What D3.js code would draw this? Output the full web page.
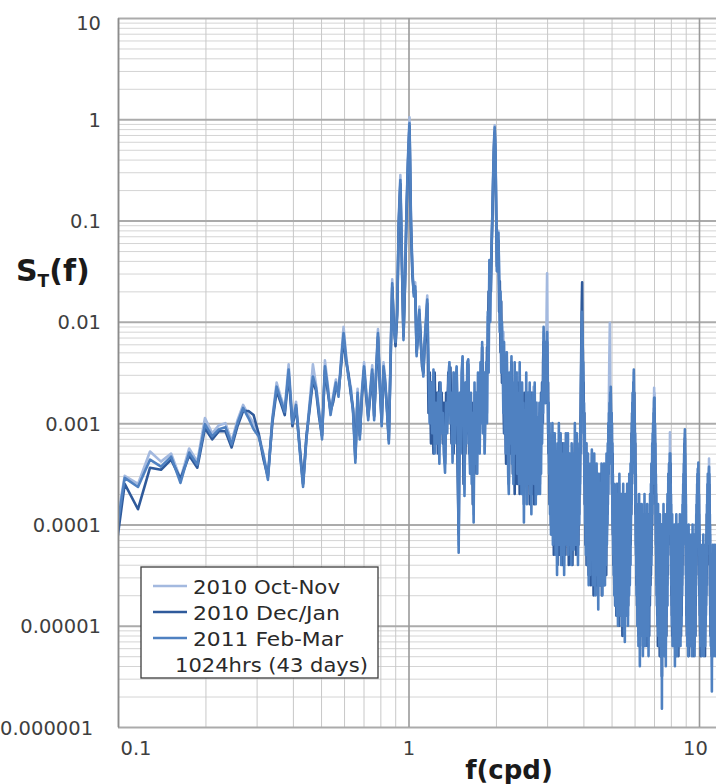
<!DOCTYPE html>
<html><head><meta charset="utf-8">
<script src="https://cdn.jsdelivr.net/npm/d3@7"></script>
<style>body{margin:0;background:#fff}svg{display:block}</style>
</head><body>
<svg id="c" width="716" height="784"></svg>
<script>
// ---- data -----------------------------------------------------------------
// spectral bins: frequency of bin k is k * binWidth (cpd); arrays start at firstBin
const binWidth = 24 / 2048;
const firstBin = 8;
const seriesNames = ["2010 Oct-Nov", "2010 Dec/Jan", "2011 Feb-Mar"];
const noteText = "1024hrs (43 days)";
const xTicks = [0.1, 1, 10];
const xTickLabels = ["0.1", "1", "10"];
const yTicks = [10, 1, 0.1, 0.01, 0.001, 0.0001, 0.00001, 0.000001];
const yTickLabels = ["10", "1", "0.1", "0.01", "0.001", "0.0001", "0.00001", "0.000001"];

// S_T(f) in dB (10*log10 S_T), one value per bin, k = 8 ... 990
const octNovDb = [
-44,-35.2,-36,-32.8,-33.8,-33,-35.5,-32.5,-33.8,-29.5,-31,-30.2,
-30,-31.8,-29.7,-28.2,-29.2,-30,-31,-33,-35.2,-29.5,-26,-27.4,-28.6,-24.2,-29.7,-27.9,-32.2,-36,-31.3,-27.9,
-24.2,-26.2,-28.7,-31.3,-23.8,-26.2,-28.9,-27.2,-25.7,-27.1,-23.6,-20.5,-23.2,-25.2,-26.4,-28.7,-33.5,-26.6,-31.3,-26.7,
-24,-26.7,-29.4,-26.7,-24.3,-29.4,-24.6,-20.7,-25.7,-30,-24,-25.7,-28.7,-31.7,-23.6,-15.8,-20.5,-21.6,-18.7,-9.6,
-5.5,-13.6,-21.5,-15.6,-8.7,-3.6,0.2,-9.6,-14.6,-17.2,-16.1,-23.1,-20.6,-18.5,-21.7,-23.6,-25.1,-21.6,-19.6,-17.4,
-25,-30,-26,-32,-25,-31,-28,-33,-27,-32,-27,-30,-29,-33,-34,-28,-30,-26,-24,-29,
-28,-33,-25,-31,-26,-24.5,-31,-42,-28,-33,-26,-23.5,-30,-36.5,-27,-32,-25,-23.8,-31,-34,
-28,-36,-29,-39,-27,-34,-28,-35,-26,-28,-33,-25,-30,-22.5,-31,-26,-33,-28.5,-25,-29,
-19.5,-25,-14,-20,-15.5,-12,-9,-5.2,-2.2,-0.6,-3,-9,-15,-13,-11,-15.5,-21,-17.5,-25,-20.5,
-26,-21,-30,-25,-33,-23,-29,-34,-26,-35,-28,-31,-25,-24,-30,-27,-35,-28,-33,-25,
-35,-27,-31,-25,-34,-29,-36,-26,-33,-29,-35,-27,-32,-37,-28,-30,-36,-27,-35,-29,
-33,-27,-36,-30,-34,-28,-37,-30,-33,-31,-26.4,-30,-35,-29,-37,-31,-34,-28,-36,-30,
-35,-29,-36,-30,-33,-28,-31,-26,-30,-21,-26,-23,-28,-22,-25,-19,-15.2,-22,-30,-28,
-34,-31,-38,-33,-40,-35,-37,-32,-41,-36,-34,-39,-32,-40,-42,-35,-38,-43,-34,-40,
-37,-32,-41,-35,-39,-33,-43,-37,-34,-41,-36,-42,-33,-44,-38,-35,-40,-33,-38,-41,
-35,-40,-33,-42,-37,-39,-34,-43,-36,-38,-43,-34,-40,-41,-35,-39,-42,-34,-40,-32,
-38,-41,-35,-40,-33,-42,-36,-43,-34,-39,-40,-33,-37,-31,-33,-27,-24,-21,-22,-23,
-27,-25,-31,-29,-36,-31,-40,-35,-42,-37,-33,-41,-38,-43,-34,-40,-45,-36,-42,-38,
-44,-35,-41,-42,-37,-33,-42,-38,-45,-36,-43,-40,-34,-42,-38,-46,-37,-41,-44,-35,
-40,-44,-38,-43,-47,-36,-42,-44,-39,-37,-45,-41,-38,-45,-35,-44,-40,-46,-37,-43,
-39,-44,-35,-43,-41,-45,-37,-42,-43,-38,-34,-42,-39,-40,-33,-38,-31,-35,-27,-24,
-22,-20.1,-25,-30,-28,-30,-33,-30,-36,-32,-39,-35,-42,-38,-44,-37,-46,-40,-44,-38,
-47,-40,-43,-45,-37,-48,-42,-39,-45,-49,-38,-43,-46,-41,-36,-46,-43,-48,-39,-44,
-42,-47,-38,-49,-43,-40,-46,-44,-37,-48,-43,-50,-39,-45,-50,-41,-47,-38,-44,-48,
-40,-46,-43,-37,-48,-44,-49,-39,-45,-42,-47,-36,-43,-46,-40,-44,-35,-41,-37,-33,
-37,-31,-34,-29,-32,-27,-30,-26,-28,-25,-27,-30,-29,-34,-31,-37,-34,-41,-37,-44,
-41,-47,-39,-44,-49,-42,-46,-40,-51,-43,-48,-38,-45,-49,-52,-43,-47,-40,-44,-50,
-42,-46,-39,-49,-43,-48,-41,-52,-45,-40,-47,-43,-50,-44,-38,-49,-46,-42,-51,-44,
-48,-40,-45,-50,-43,-47,-39,-49,-44,-42,-49,-46,-52,-41,-45,-48,-40,-43,-47,-38,
-45,-41,-43,-37,-44,-35,-41,-36,-39,-33,-38,-32,-36,-31,-35,-30,-33,-29,-26.5,-30,
-27,-32,-30,-35,-33,-39,-35,-42,-37,-45,-41,-47,-40,-45,-49,-42,-47,-39,-50,-44,
-41,-48,-45,-51,-43,-47,-40,-50,-44,-48,-42,-52,-46,-41,-49,-44,-55,-45,-49,-42,
-47,-43,-50,-44,-39,-49,-45,-52,-42,-48,-44,-50,-46,-40,-51,-44,-52,-43,-47,-41,
-49,-44,-46,-40,-48,-38,-44,-39,-42,-36,-41,-37,-40,-35,-39,-36,-37,-34,-30.9,-37,
-34,-40,-37,-43,-39,-46,-42,-48,-44,-50,-40,-47,-44,-51,-45,-49,-42,-50,-46,-43,
-48,-45,-51,-41,-47,-52,-44,-49,-45,-51,-42,-48,-46,-40,-50,-45,-47,-43,-52,-45,
-42,-49,-46,-44,-51,-41,-48,-45,-51,-43,-47,-45,-50,-40,-46,-49,-44,-51,-45,-42,
-48,-45,-50,-43,-46,-41,-47,-40,-45,-39,-43,-38,-42,-37,-41,-36,-40,-35,-38,-34,
-34,-33,-32,-31,-34,-34,-37,-36,-41,-38,-45,-41,-48,-44,-50,-42,-47,-45,-51,-46,
-43,-49,-45,-52,-44,-48,-41,-51,-46,-45,-50,-42,-47,-51,-45,-49,-44,-51,-47,-43,
-49,-45,-51,-42,-48,-46,-52,-44,-50,-45,-47,-41,-51,-45,-49,-43,-48,-46,-51,-45,
-42,-50,-47,-44,-52,-45,-49,-43,-51,-46,-48,-41,-47,-45,-45,-40,-44,-39,-42,-38,
-40,-37,-39,-36,-38,-35.5,-37,-36,-36,-35,-37,-36,-39,-38,-42,-40,-45,-42,-47,-45,
-49,-46,-48,-43,-51,-46,-49,-44,-50,-47,-45,-50,-52,-46,-48,-43,-51,-46,-49,-44,
-51,-46,-48,-42,-50,-46,-52,-45,-49,-43,-51,-47,-46,-50,-44,-48,-51,-46,-49,-43,
-49,-46,-48,-44,-47,-42,-46,-41,-44,-39,-43,-38,-41,-37,-40,-36,-39,-37,-37,-36,
-36,-36,-35,-35,-33.5,-37,-36,-40,-38,-43,-40,-46,-42,-48,-45,-50,-44,-51,-46,-49,
-45,-50,-47,-50,-52,-54,-45,-49,-44,-51,-46,-48,-43,-50,-45,-50,-45,-52,-47,-49,
-44,-50,-46,-48,-43,-51,-45,-50,-45,-49,-47,-52,-44,-48,-46,-50,-45,-49,-43,-50,
-46,-51,-47,-49,-44,-50,-46,-48,-45,-50,-46
];

const decJanDb = [
-47,-36,-38.5,-34.4,-34.6,-33.6,-35.5,-33.2,-34.4,-30.5,-31.6,-30.8,
-30.8,-32.4,-30.3,-28.8,-28.8,-29.2,-31,-33.5,-35.3,-30,-26.8,-28,-29.2,-25.2,-30.3,-28.5,-32.3,-36,-31.3,-28.6,
-25.8,-26.8,-29.4,-31.2,-24.8,-26.9,-28.8,-27.9,-26.4,-27,-24.4,-21.6,-23.9,-25.1,-27.1,-28.6,-33.4,-27.4,-31.2,-27.4,
-24.8,-27.4,-29.3,-27.4,-25.1,-29.3,-25.4,-21.5,-26.4,-29.9,-24.8,-26.4,-28.6,-31.6,-24.4,-16.6,-20.4,-22.4,-19.4,-10.5,
-6.4,-14.5,-21.4,-16.4,-9.5,-4.5,-0.7,-10.5,-15.4,-17.1,-16.9,-23,-21.4,-19.2,-21.6,-24.4,-25,-22.4,-20.4,-18.2,
-29,-25,-32,-26,-33,-25,-31,-27,-33,-26,-30,-27,-32,-28,-34,-27,-30,-25,-29,-24.5,
-32,-27,-33,-26,-31,-25,-35,-41,-30,-27,-32,-24,-36,-29,-33,-26,-31,-24.2,-33,-28,
-35,-28,-38,-31,-35,-27,-34,-28,-32,-26,-30,-25,-28,-22.5,-27,-25,-30,-26,-29,-22.5,
-24,-17,-20,-14.5,-17,-12.5,-9.5,-6,-3,-1.3,-3.5,-9.5,-14.5,-13.5,-12,-19,-16,-23,-18,-26,
-22,-27,-31,-24,-29,-34,-26,-31,-28,-36,-30,-27,-33,-24,-29,-35,-27,-32,-37,-26,
-33,-28,-36,-26,-34,-30,-37,-27,-32,-35,-29,-37,-31,-38,-27,-33,-36,-29,-34,-31,
-36,-28,-33,-38,-30,-35,-27,-37,-31,-34,-29,-38,-32,-28,-35,-33,-37,-30,-34,-36,
-30,-35,-29,-33,-27,-32,-26,-30,-24,-22,-25,-27,-24,-28,-23,-26,-22,-28,-26,-33,
-31,-38,-33,-36,-40,-32,-41,-35,-38,-31,-43,-37,-34,-41,-36,-33,-42,-38,-44,-35,
-40,-33,-38,-43,-34,-41,-36,-39,-32,-44,-37,-40,-35,-42,-33,-39,-43,-36,-41,-34,
-42,-35,-38,-33,-44,-37,-40,-34,-43,-38,-36,-41,-33,-44,-39,-35,-41,-37,-34,-32,
-40,-35,-43,-37,-33,-41,-38,-35,-42,-36,-39,-34,-36,-31,-29,-25,-21,-18,-16.1,-22,
-23,-29,-26,-33,-29,-38,-32,-42,-37,-35,-44,-39,-34,-43,-37,-40,-45,-36,-41,-38,
-43,-37,-46,-39,-35,-42,-38,-45,-34,-40,-47,-37,-43,-36,-44,-39,-41,-46,-35,-42,
-44,-38,-47,-36,-41,-45,-39,-43,-37,-46,-40,-35,-44,-41,-38,-47,-36,-42,-45,-39,
-43,-37,-46,-40,-35,-44,-38,-42,-36,-45,-39,-41,-34,-39,-33,-37,-31,-35,-30,-33,
-29,-31,-28,-32,-27,-31,-29,-34,-30,-37,-33,-41,-36,-44,-38,-42,-46,-39,-43,-48,
-40,-45,-37,-49,-42,-46,-39,-44,-48,-41,-36,-47,-43,-50,-39,-45,-41,-48,-44,-37,
-46,-42,-49,-38,-45,-51,-40,-47,-43,-39,-48,-44,-50,-41,-47,-45,-38,-49,-42,-46,
-44,-40,-49,-45,-38,-47,-42,-48,-40,-46,-43,-37,-45,-41,-44,-36,-42,-38,-35,-39,
-31,-36,-29,-34,-28,-32,-27,-30,-26,-28,-29,-27,-33,-30,-36,-32,-39,-35,-43,-38,
-46,-41,-48,-43,-39,-50,-44,-47,-40,-51,-45,-42,-49,-38,-52,-46,-41,-48,-43,-50,
-44,-39,-48,-45,-51,-41,-47,-43,-50,-46,-40,-49,-44,-52,-42,-47,-39,-50,-45,-48,
-42,-51,-46,-40,-48,-44,-52,-41,-47,-45,-50,-39,-46,-49,-43,-51,-45,-41,-48,-44,
-39,-46,-37,-45,-38,-43,-36,-41,-34,-40,-33,-37,-32,-35,-31,-34,-30,-32,-28.5,-30,
-29,-31,-32,-35,-34,-38,-36,-42,-39,-45,-40,-47,-43,-49,-41,-46,-52,-44,-48,-42,
-50,-45,-41,-49,-46,-53,-43,-47,-50,-42,-48,-44,-51,-47,-40,-52,-55,-48,-43,-49,
-45,-52,-42,-48,-46,-50,-43,-47,-51,-44,-49,-41,-48,-53,-45,-47,-42,-50,-46,-51,
-44,-48,-41,-46,-40,-45,-38,-43,-37,-42,-36,-41,-35,-40,-34,-38,-35,-37,-35,-36,
-39,-34,-41,-37,-45,-39,-47,-42,-49,-45,-51,-43,-48,-46,-52,-44,-50,-47,-41,-49,
-45,-51,-43,-48,-46,-50,-42,-52,-47,-44,-49,-45,-53,-43,-48,-51,-44,-46,-50,-42,
-47,-51,-44,-49,-46,-53,-42,-48,-45,-50,-43,-52,-46,-48,-44,-51,-47,-42,-49,-45,
-51,-43,-47,-45,-49,-42,-46,-41,-44,-40,-43,-39,-41,-38,-40,-37,-39,-35,-37,-33,
-35,-32,-33,-31.5,-34,-36,-36,-40,-38,-44,-41,-47,-43,-49,-45,-51,-44,-48,-46,-50,
-47,-44,-51,-46,-49,-42,-53,-45,-48,-50,-43,-47,-52,-46,-49,-44,-50,-45,-48,-51,
-44,-50,-47,-43,-52,-46,-49,-45,-51,-42,-48,-46,-50,-44,-53,-47,-45,-49,-43,-51,
-47,-44,-52,-46,-49,-43,-50,-47,-45,-51,-42,-48,-44,-46,-41,-45,-40,-43,-39,-41,
-38,-40,-37,-39,-36,-38,-35,-37,-35,-36,-36,-38,-37,-41,-40,-44,-42,-47,-45,-49,
-46,-51,-44,-49,-47,-53,-45,-48,-50,-44,-52,-46,-49,-43,-51,-47,-45,-50,-44,-48,
-47,-51,-44,-49,-46,-50,-43,-52,-47,-48,-45,-51,-44,-49,-46,-53,-43,-48,-47,-50,
-44,-49,-46,-47,-42,-46,-41,-45,-39,-44,-40,-42,-38,-41,-37,-40,-36,-38,-36,-37,
-36,-36,-35,-35,-35.5,-37,-36,-40,-38,-44,-40,-47,-43,-49,-45,-51,-44,-48,-46,-50,
-45,-49,-47,-51,-53,-48,-44,-50,-46,-52,-43,-49,-47,-51,-45,-48,-50,-44,-52,-46,
-49,-45,-51,-43,-48,-47,-50,-44,-52,-46,-49,-45,-51,-43,-48,-50,-46,-52,-44,-49,
-47,-50,-44,-51,-46,-49,-43,-50,-45,-48,-46
];

const febMarDb = [
-45,-35.4,-36.3,-33.6,-34.3,-33.3,-35.9,-32.9,-34.1,-30.1,-31.3,-30.6,
-30.4,-32.1,-30,-28.5,-29.5,-30.6,-31.3,-33.1,-35.6,-29.7,-26.4,-27.7,-28.9,-24.7,-30,-28.2,-32.6,-36.3,-31.6,-28.2,
-25.4,-26.5,-29,-31.6,-24.4,-26.5,-29.2,-27.5,-26,-27.4,-24,-21.1,-23.5,-25.5,-26.7,-29,-33.9,-27,-31.6,-27,
-24.4,-27,-29.7,-27,-24.7,-29.7,-25,-21.1,-26,-30.3,-24.4,-26,-29,-32,-24,-16.2,-20.8,-22,-19,-10,
-6,-14,-21.8,-16,-9,-4,-0.4,-10,-15,-17.5,-16.5,-23.4,-21,-18.8,-22,-24,-25.4,-22,-20,-17.8,
-24,-30,-26,-31,-24.7,-33,-28,-32,-27,-34,-26,-31,-29,-33,-34.9,-28,-31,-26,-24,-30,
-27,-33.9,-25,-32,-26,-24.4,-31,-42.8,-27,-33,-25,-23.4,-30,-37.2,-26,-32,-24,-23.7,-31,-35,
-27,-36,-29,-39.8,-26,-34,-27,-35,-25,-27.7,-33,-24,-30,-22,-31,-25,-33,-28.7,-24,-30,
-19,-25,-13.9,-20,-15,-12,-9,-5.5,-2.5,-0.8,-3,-9,-15,-13,-11.2,-15,-21,-17,-25,-20,
-24,-29,-22,-31,-26,-33,-23,-27,-35,-37,-25,-32,-28,-23.4,-34,-26,-36,-29,-24,-33,
-30,-25,-35,-27,-31,-36,-24,-33,-29,-37,-26,-34,-28,-39.8,-31,-28.7,-35,-25,-38,-30,
-27,-36,-31,-26,-37,-29,-39,-32,-27,-35,-30,-36,-26,-33,-38,-28,-34,-31,-37,-29.4,
-33,-28,-37,-30,-35,-27,-32,-26,-29,-20.5,-25,-23,-28,-22,-27,-24,-21,-26,-31,-28,
-35,-30,-39,-32,-41,-34,-37,-30,-42,-36,-33,-40,-31,-38,-43,-34,-39,-45,-32,-41,
-36,-30,-42,-35,-38,-31,-44,-37,-33,-41,-35,-43,-32,-45,-38,-34,-40,-31,-37,-42,
-34,-39,-31,-43,-36,-40,-33,-42,-37,-35,-44,-32,-39,-41,-34,-38,-42.5,-33,-40,-30,
-37,-42,-34,-39,-31,-41,-36,-44,-33,-38,-40,-32,-37,-30,-33,-26,-23,-19,-24,-21,
-27,-24,-31,-28,-36,-30,-40,-34,-43,-36,-32,-41,-38,-44,-33,-39,-46,-35,-42,-37,
-45,-34,-40,-43,-36,-32.6,-41,-38,-46,-35,-44,-39,-33,-42,-37,-47,-36,-40,-44,-34,
-39,-45,-37,-42,-48.4,-35,-41,-44,-38,-35.9,-46,-40,-37,-45.7,-34,-43,-39,-47,-36,-42,
-38,-45,-34,-43,-40,-46,-36,-41,-44,-37,-33,-42,-38,-40,-32,-37,-30,-35,-29,-34,
-28,-33,-27,-31,-26.4,-30,-34,-29,-37,-32,-40,-35,-43,-38,-45,-36,-47,-40,-44,-37,
-48,-39,-43,-46,-36,-49,-41,-38,-45,-50,-37,-43,-47,-40,-35,-46,-42,-49,-38,-44,
-41,-47,-37,-50,-43,-39,-46,-44,-36,-48,-42,-51,-38,-45,-51.6,-40,-47,-37,-44,-49,
-39,-46,-42,-36,-48,-44,-50,-38,-45,-41,-47,-35,-43,-46,-39,-44,-34,-41,-37,-32,
-38,-30,-35,-28,-33,-27,-31,-26,-29,-24.7,-28,-31,-29,-35,-31,-38,-34,-42,-37,-45,
-40,-47,-38,-44,-50,-41,-46,-39,-52,-43,-48,-37,-45,-49,-54,-42,-47,-39,-44,-51,
-41,-46,-38,-50,-43,-48,-40,-53,-45,-39,-47,-42,-51,-44,-37,-49,-46,-41,-52,-43,
-48,-39,-45,-51,-42,-47,-38,-50,-44,-41,-49,-46,-53,-40,-45,-48,-39,-43,-47,-37,
-45,-40,-43,-36,-44,-34,-41,-35,-39,-32,-38,-31,-36,-30,-35,-29,-33,-28,-27.5,-31,
-27.5,-33,-30,-36,-32,-40,-35,-43,-37,-46,-41,-48,-39,-45,-50,-42,-47,-38,-51,-44,
-40,-49,-45,-52,-42,-47,-39,-51,-44,-48,-41,-53,-46,-40,-49,-43,-58.2,-45,-50,-41,
-47,-42,-51,-44,-38,-49,-45,-53,-41,-48,-43,-50,-46,-39,-52,-44,-54,-42,-47,-40,
-49,-43,-46,-39,-48,-37,-44,-38,-42,-35,-41,-36,-40,-34,-39,-35,-37,-33,-34,-38,
-33,-40,-36,-43,-38,-46,-41,-48,-44,-50,-39,-47,-43,-52,-45,-49,-41,-51,-46,-42,
-48,-44,-51,-40,-47,-54,-43,-49,-45,-52,-41,-48,-46,-39,-50,-44,-47,-42,-53,-45,
-41,-49,-46,-43,-51,-40,-48,-45,-52,-42,-47,-44,-50,-39,-46,-49,-43,-52,-45,-41,
-48,-44,-50,-42,-46,-40,-47,-39,-45,-38,-43,-37,-42,-36,-41,-35,-40,-34,-38,-33,
-36,-32,-34,-30.6,-35,-33,-38,-35,-42,-37,-45,-40,-48,-43,-50,-41,-47,-44,-52,-46,
-42,-49,-45,-53,-43,-48,-40,-51,-46,-44,-50,-41,-47,-52,-45,-49,-43,-51,-47,-42,
-49,-45,-52,-41,-48,-46,-53,-43,-50,-44,-47,-40,-51,-45,-49,-42,-48,-46,-52,-44,
-41,-50,-47,-43,-53,-45,-49,-42,-51,-46,-48,-40,-47,-44,-45,-39,-44,-38,-42,-37,
-41,-36,-40,-35,-39,-34.5,-38,-35,-37,-33.9,-38,-35,-40,-37,-43,-39,-46,-41,-48,-44,
-50,-45,-48,-42,-52,-46,-49,-43,-51,-47,-44,-50,-53,-45,-48,-42,-51,-46,-49,-43,
-52,-45,-48,-41,-50,-46,-53,-44,-49,-42,-51,-47,-45,-50,-43,-48,-52,-46,-49,-42,
-50,-45,-48,-43,-47,-41,-46,-40,-44,-38,-43,-37,-41,-36,-40,-35,-39,-36,-38,-35,
-37,-35,-36,-34.5,-34.3,-36,-35,-39,-37,-42,-39,-46,-41,-48,-44,-50,-43,-52,-46,-49,
-44,-51,-47,-50,-53,-56.5,-45,-49,-43,-52,-46,-48,-42,-51,-45,-50,-44,-53,-47,-49,
-43,-51,-46,-48,-42,-52,-45,-50,-44,-49,-47,-53,-43,-48,-46,-51,-44,-49,-42,-50,
-45,-52,-47,-49,-43,-51,-46,-48,-44,-50,-45
];

const seriesColors = ["#a3b9df", "#2f5a9b", "#4f81c1"];
const seriesDb = [octNovDb, decJanDb, febMarDb];

// ---- chart ----------------------------------------------------------------
const svg = d3.select("#c");
const FONT = "DejaVu Sans, Verdana, sans-serif";
const plot = {left: 118, right: 716, top: 18, bottom: 727};

const x = d3.scaleLog().domain([0.1, 10]).range([118, 699]);
const y = d3.scaleLog().domain([1e-6, 10]).range([727, 18]);

const minorY = [], minorX = [];
for (let e = -6; e < 1; e++) for (let m = 2; m <= 9; m++) minorY.push(m * Math.pow(10, e));
for (let e = -1; e < 1; e++) for (let m = 2; m <= 9; m++) minorX.push(m * Math.pow(10, e));

const grid = svg.append("g");
grid.append("g").attr("transform", `translate(${plot.left},0)`)
  .call(d3.axisLeft(y).tickValues(minorY).tickSize(-(plot.right - plot.left)).tickFormat(""))
  .call(g => g.select(".domain").remove())
  .selectAll("line").attr("stroke", "#d4d4d4").attr("stroke-width", 1);
grid.append("g").attr("transform", `translate(0,${plot.bottom})`)
  .call(d3.axisBottom(x).tickValues(minorX).tickSize(-(plot.bottom - plot.top)).tickFormat(""))
  .call(g => g.select(".domain").remove())
  .selectAll("line").attr("stroke", "#c8c8c8").attr("stroke-width", 1);
grid.append("g").attr("transform", `translate(${plot.left},0)`)
  .call(d3.axisLeft(y).tickValues(yTicks).tickSize(-(plot.right - plot.left)).tickFormat(""))
  .call(g => g.select(".domain").remove())
  .selectAll("line").attr("stroke", "#ababab").attr("stroke-width", 2);
grid.append("g").attr("transform", `translate(0,${plot.bottom})`)
  .call(d3.axisBottom(x).tickValues(xTicks).tickSize(-(plot.bottom - plot.top)).tickFormat(""))
  .call(g => g.select(".domain").remove())
  .selectAll("line").attr("stroke", "#9a9a9a").attr("stroke-width", 1.6);

svg.append("clipPath").attr("id", "clip").append("rect")
  .attr("x", plot.left).attr("y", plot.top)
  .attr("width", plot.right - plot.left).attr("height", plot.bottom - plot.top);

const line = d3.line().x(d => x(d.f)).y(d => y(d.s));
const lines = svg.append("g").attr("clip-path", "url(#clip)");
seriesDb.forEach((arr, si) => {
  const pts = arr.map((v, i) => ({f: (firstBin + i) * binWidth, s: Math.pow(10, v / 10)}));
  lines.append("path").datum(pts)
    .attr("fill", "none").attr("stroke", seriesColors[si])
    .attr("stroke-width", 2.6).attr("stroke-linejoin", "round")
    .attr("d", line);
});

// y tick labels
const yAxis = svg.append("g").attr("transform", `translate(${plot.left},0)`)
  .call(d3.axisLeft(y).tickValues(yTicks).tickSize(0).tickPadding(17)
    .tickFormat((d, i) => yTickLabels[i]));
yAxis.select(".domain").attr("stroke", "#8c8c8c").attr("stroke-width", 1.5);
yAxis.selectAll("text").attr("font-family", FONT).attr("font-size", 19.5)
  .attr("fill", "#3f3f3f").attr("dy", "0.36em");
yAxis.selectAll("text").filter((d, i) => i === 0).attr("transform", "translate(0,4)");
yAxis.selectAll("text").filter((d, i) => i === yTicks.length - 1)
  .attr("text-anchor", "start").attr("x", -plot.left);

// x tick labels
const xAxis = svg.append("g").attr("transform", `translate(0,${plot.bottom})`)
  .call(d3.axisBottom(x).tickValues(xTicks).tickSize(0).tickPadding(14)
    .tickFormat((d, i) => xTickLabels[i]));
xAxis.select(".domain").remove();
xAxis.selectAll("text").attr("font-family", FONT).attr("font-size", 19.5).attr("fill", "#3f3f3f");
xAxis.selectAll("text").filter((d, i) => i === 0).attr("text-anchor", "start").attr("dx", 2);
xAxis.selectAll("text").filter((d, i) => i === 2).attr("dx", -4);

// axis titles
const yt = svg.append("text").attr("x", 16).attr("y", 281)
  .attr("font-family", FONT).attr("font-weight", "bold").attr("fill", "#1a1a1a").attr("font-size", 30);
yt.append("tspan").text("S");
yt.append("tspan").attr("font-size", 17).attr("dy", 6).text("T");
yt.append("tspan").attr("dy", -6).text("(f)");

svg.append("text").attr("x", 509).attr("y", 779).attr("text-anchor", "middle")
  .attr("font-family", FONT).attr("font-weight", "bold").attr("font-size", 26)
  .attr("fill", "#1a1a1a").text("f(cpd)");

// legend
const lg = svg.append("g");
lg.append("rect").attr("x", 141).attr("y", 567).attr("width", 237).attr("height", 111)
  .attr("fill", "#fff").attr("stroke", "#3c3c3c").attr("stroke-width", 1.3);
const rowsY = [586, 612, 638];
const rowW = [147, 147, 150];
seriesNames.forEach((n, i) => {
  lg.append("line").attr("x1", 153).attr("x2", 187).attr("y1", rowsY[i]).attr("y2", rowsY[i])
    .attr("stroke", seriesColors[i]).attr("stroke-width", 2.6);
  lg.append("text").attr("x", 193).attr("y", rowsY[i] + 8).attr("font-family", FONT)
    .attr("font-size", 19.5).attr("fill", "#2a2a2a")
    .attr("textLength", rowW[i]).attr("lengthAdjust", "spacingAndGlyphs").text(n);
});
lg.append("text").attr("x", 175).attr("y", 672).attr("font-family", FONT)
  .attr("font-size", 19.5).attr("fill", "#2a2a2a")
  .attr("textLength", 193).attr("lengthAdjust", "spacingAndGlyphs").text(noteText);
</script>
</body></html>
